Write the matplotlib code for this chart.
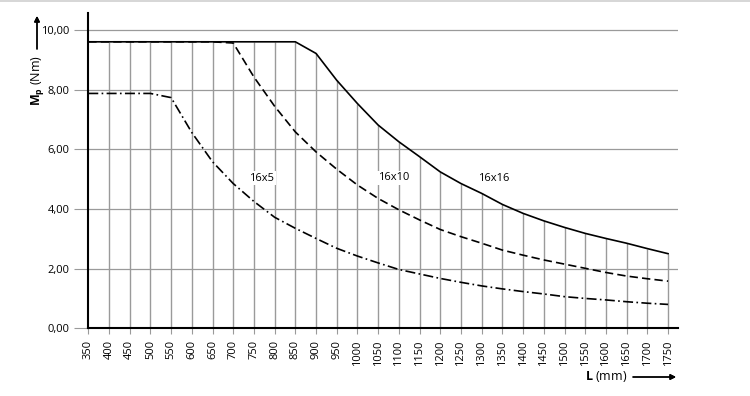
import matplotlib.pyplot as plt
from matplotlib.lines import Line2D
from matplotlib.ticker import FuncFormatter

plt.rcParams['font.family'] = ['Open Sans', 'DejaVu Sans']
plt.rcParams['mathtext.fontset'] = 'custom'
plt.rcParams['mathtext.rm'] = 'Open Sans'
plt.rcParams['mathtext.bf'] = 'Open Sans:bold'

# === Data ===
L = list(range(350, 1751, 50))
mp_16x16 = [9.6, 9.6, 9.6, 9.6, 9.6, 9.6, 9.6, 9.6, 9.6, 9.6, 9.6,
            9.21, 8.31, 7.53, 6.81, 6.25, 5.75, 5.24, 4.85, 4.52, 4.15,
            3.85, 3.60, 3.38, 3.18, 3.01, 2.85, 2.67, 2.50]
mp_16x10 = [9.6, 9.6, 9.6, 9.6, 9.6, 9.6, 9.6, 9.56, 8.42, 7.44, 6.58,
            5.91, 5.33, 4.80, 4.35, 3.97, 3.63, 3.31, 3.07, 2.85, 2.62,
            2.45, 2.29, 2.15, 2.01, 1.87, 1.75, 1.66, 1.58]
mp_16x5 = [7.87, 7.87, 7.87, 7.87, 7.73, 6.56, 5.58, 4.85, 4.25, 3.72,
           3.35, 3.01, 2.68, 2.42, 2.19, 1.97, 1.82, 1.67, 1.54, 1.42,
           1.32, 1.23, 1.15, 1.06, 1.00, 0.95, 0.89, 0.84, 0.80]
y_ticks = [0, 2, 4, 6, 8, 10]
labels = ["16x5", "16x10", "16x16"]
label_pos = [(769, 5.03), (1087, 5.04), (1330, 5.02)]

GRID = "#9a9a9a"

fig = plt.figure(figsize=(7.5, 3.96), dpi=100)
ax = fig.add_axes([0.1177, 0.171, 0.904 - 0.1177, 0.966 - 0.171])

# vertical grid lines only up to the 16x16 curve
ax.vlines(L[1:], 0, mp_16x16[1:], colors=GRID, lw=1.0, zorder=1)
ax.set_yticks(y_ticks)
ax.yaxis.grid(True, color=GRID, lw=0.9)
ax.set_axisbelow(True)

ax.plot(L, mp_16x5, color="black", lw=1.2, ls=(0, (6, 2, 1, 2)), zorder=3)
ax.plot(L, mp_16x10, color="black", lw=1.2, ls=(0, (5, 2.5)), zorder=3)
ax.plot(L, mp_16x16, color="black", lw=1.2, zorder=4)

for txt, (x, y) in zip(labels, label_pos):
    ax.text(x, y, txt, ha="center", va="center", fontsize=8,
            bbox=dict(facecolor="white", edgecolor="none", pad=1.0), zorder=5)

ax.set_xlim(350, 1774)
ax.set_ylim(0, 10.55)
ax.set_xticks(L)
ax.tick_params(axis="x", rotation=90, length=4.5, color=GRID, labelsize=8, pad=4)
ax.tick_params(axis="y", length=10, color=GRID, labelsize=8, pad=3.5)
ax.yaxis.set_major_formatter(FuncFormatter(lambda v, p: f"{v:.2f}".replace(".", ",")))

for s in ["top", "right"]:
    ax.spines[s].set_visible(False)
for s in ["left", "bottom"]:
    ax.spines[s].set_linewidth(1.5)
    ax.spines[s].set_color("black")

# axis titles with arrows
fig.text(37 / 750, 1 - 81 / 396, r"$\mathbf{M_p}$ (Nm)", rotation=90,
         ha="center", va="center", fontsize=9)
fig.add_artist(plt.annotate("", xy=(37 / 750, 1 - 16 / 396), xytext=(37 / 750, 1 - 49 / 396),
                            xycoords="figure fraction",
                            arrowprops=dict(arrowstyle="-|>", color="black", lw=1,
                                            mutation_scale=8, shrinkA=0, shrinkB=0)))
fig.text(606 / 750, 1 - 377 / 396, r"$\mathbf{L}$ (mm)", ha="center", va="center", fontsize=9)
fig.add_artist(plt.annotate("", xy=(676 / 750, 1 - 377 / 396), xytext=(633 / 750, 1 - 377 / 396),
                            xycoords="figure fraction",
                            arrowprops=dict(arrowstyle="-|>", color="black", lw=1,
                                            mutation_scale=8, shrinkA=0, shrinkB=0)))

fig.add_artist(Line2D([0, 1], [0.998, 0.998], color="#d0d0d0", lw=1.2))

fig.savefig("out.png", dpi=100)
